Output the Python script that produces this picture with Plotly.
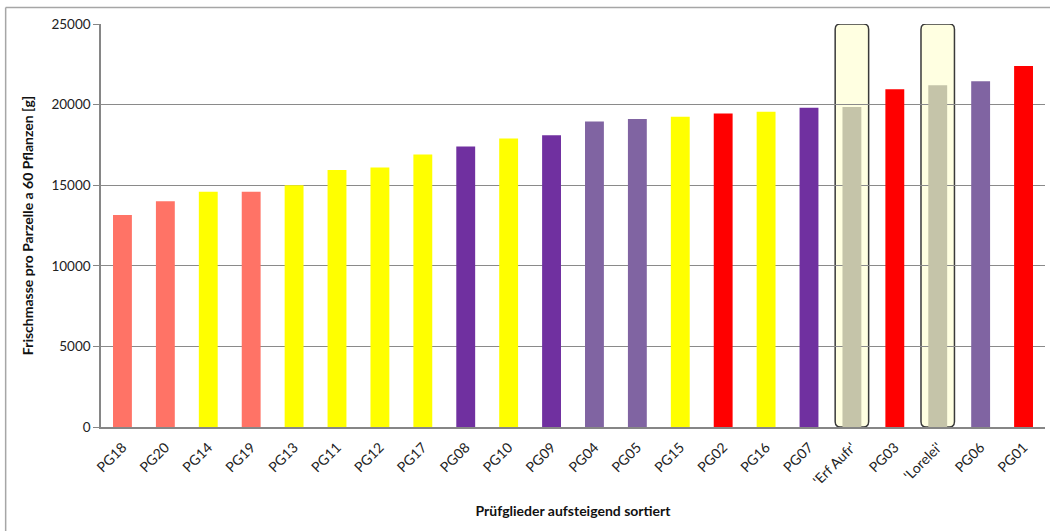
import plotly.graph_objects as go

# %% data
categories = ["PG18", "PG20", "PG14", "PG19", "PG13", "PG11", "PG12", "PG17",
              "PG08", "PG10", "PG09", "PG04", "PG05", "PG15", "PG02", "PG16",
              "PG07", "'Erf Aufr'", "PG03", "'Lorelei'", "PG06", "PG01"]
frischmasse = [13150, 14000, 14600, 14600, 15000, 15950, 16100, 16900,
               17400, 17900, 18100, 18950, 19100, 19250, 19450, 19550,
               19800, 19850, 20950, 21200, 21450, 22400]
gruppe = ["lachs", "lachs", "gelb", "lachs", "gelb", "gelb", "gelb", "gelb",
          "lila", "gelb", "lila", "hellila", "hellila", "gelb", "rot", "gelb",
          "lila", "sorte", "rot", "sorte", "hellila", "rot"]
sorten = ["'Erf Aufr'", "'Lorelei'"]
y_ticks = [0, 5000, 10000, 15000, 20000, 25000]

farben = {"lachs": "#FF7366", "gelb": "#FFFF00", "lila": "#7030A0",
          "hellila": "#8064A2", "rot": "#FF0000", "sorte": "#C5C4A9"}

font = "Lato, 'Open Sans', sans-serif"

# %% figure
fig = go.Figure(go.Bar(
    x=categories, y=frischmasse,
    marker=dict(color=[farben[g] for g in gruppe], line=dict(width=0)),
))


def rounded_box(cx, half_w, y0, y1, rx=0.12, ry=320):
    x0, x1 = cx - half_w, cx + half_w
    return (f"M {x0 + rx} {y1} L {x1 - rx} {y1} Q {x1} {y1} {x1} {y1 - ry} "
            f"L {x1} {y0 + ry} Q {x1} {y0} {x1 - rx} {y0} "
            f"L {x0 + rx} {y0} Q {x0} {y0} {x0} {y0 + ry} "
            f"L {x0} {y1 - ry} Q {x0} {y1} {x0 + rx} {y1} Z")


shapes = []
for s in sorten:
    i = categories.index(s)
    shapes.append(dict(type="path", path=rounded_box(i, 0.39, 0, y_ticks[-1]),
                       xref="x", yref="y", layer="below",
                       fillcolor="#FFFFE1", line=dict(color="#3A3A3A", width=1.5)))

# chart area frame (Excel style), top and left edges visible
shapes.append(dict(type="line", xref="paper", yref="paper",
                   x0=-0.101, x1=1.02, y0=1.041, y1=1.041,
                   line=dict(color="#A6A6A6", width=1.5)))
shapes.append(dict(type="line", xref="paper", yref="paper",
                   x0=-0.101, x1=-0.101, y0=1.041, y1=-0.3,
                   line=dict(color="#A6A6A6", width=1.5)))

fig.update_layout(
    width=1050, height=531,
    margin=dict(l=101, r=5, t=24, b=104),
    paper_bgcolor="white", plot_bgcolor="white",
    bargap=0.56, showlegend=False,
    font=dict(family=font, size=13, color="#222222"),
    shapes=shapes,
)
fig.update_xaxes(
    type="category", tickangle=-45, showgrid=False,
    showline=True, linecolor="#868686", linewidth=1.5,
    ticks="outside", ticklen=5, tickcolor="rgba(0,0,0,0)",
    tickfont=dict(size=14),
    title=dict(text="<b>Prüfglieder aufsteigend sortiert</b>",
               font=dict(size=14, color="#111111"), standoff=19),
)
fig.update_yaxes(
    range=[0, y_ticks[-1]], tickvals=y_ticks,
    ticktext=[str(v) for v in y_ticks],
    showgrid=True, gridcolor="#8A8A8A", gridwidth=1,
    showline=True, linecolor="#868686", linewidth=1.5,
    ticks="outside", ticklen=6, tickcolor="#868686",
    tickfont=dict(size=13.5), zeroline=False,
    title=dict(text="<b>Frischmasse pro Parzelle a 60 Pflanzen [g]</b>",
               font=dict(size=14, color="#111111"), standoff=14),
)

fig.write_html("out.html", config={"displayModeBar": False},
               post_script="document.body.style.margin='0';")
